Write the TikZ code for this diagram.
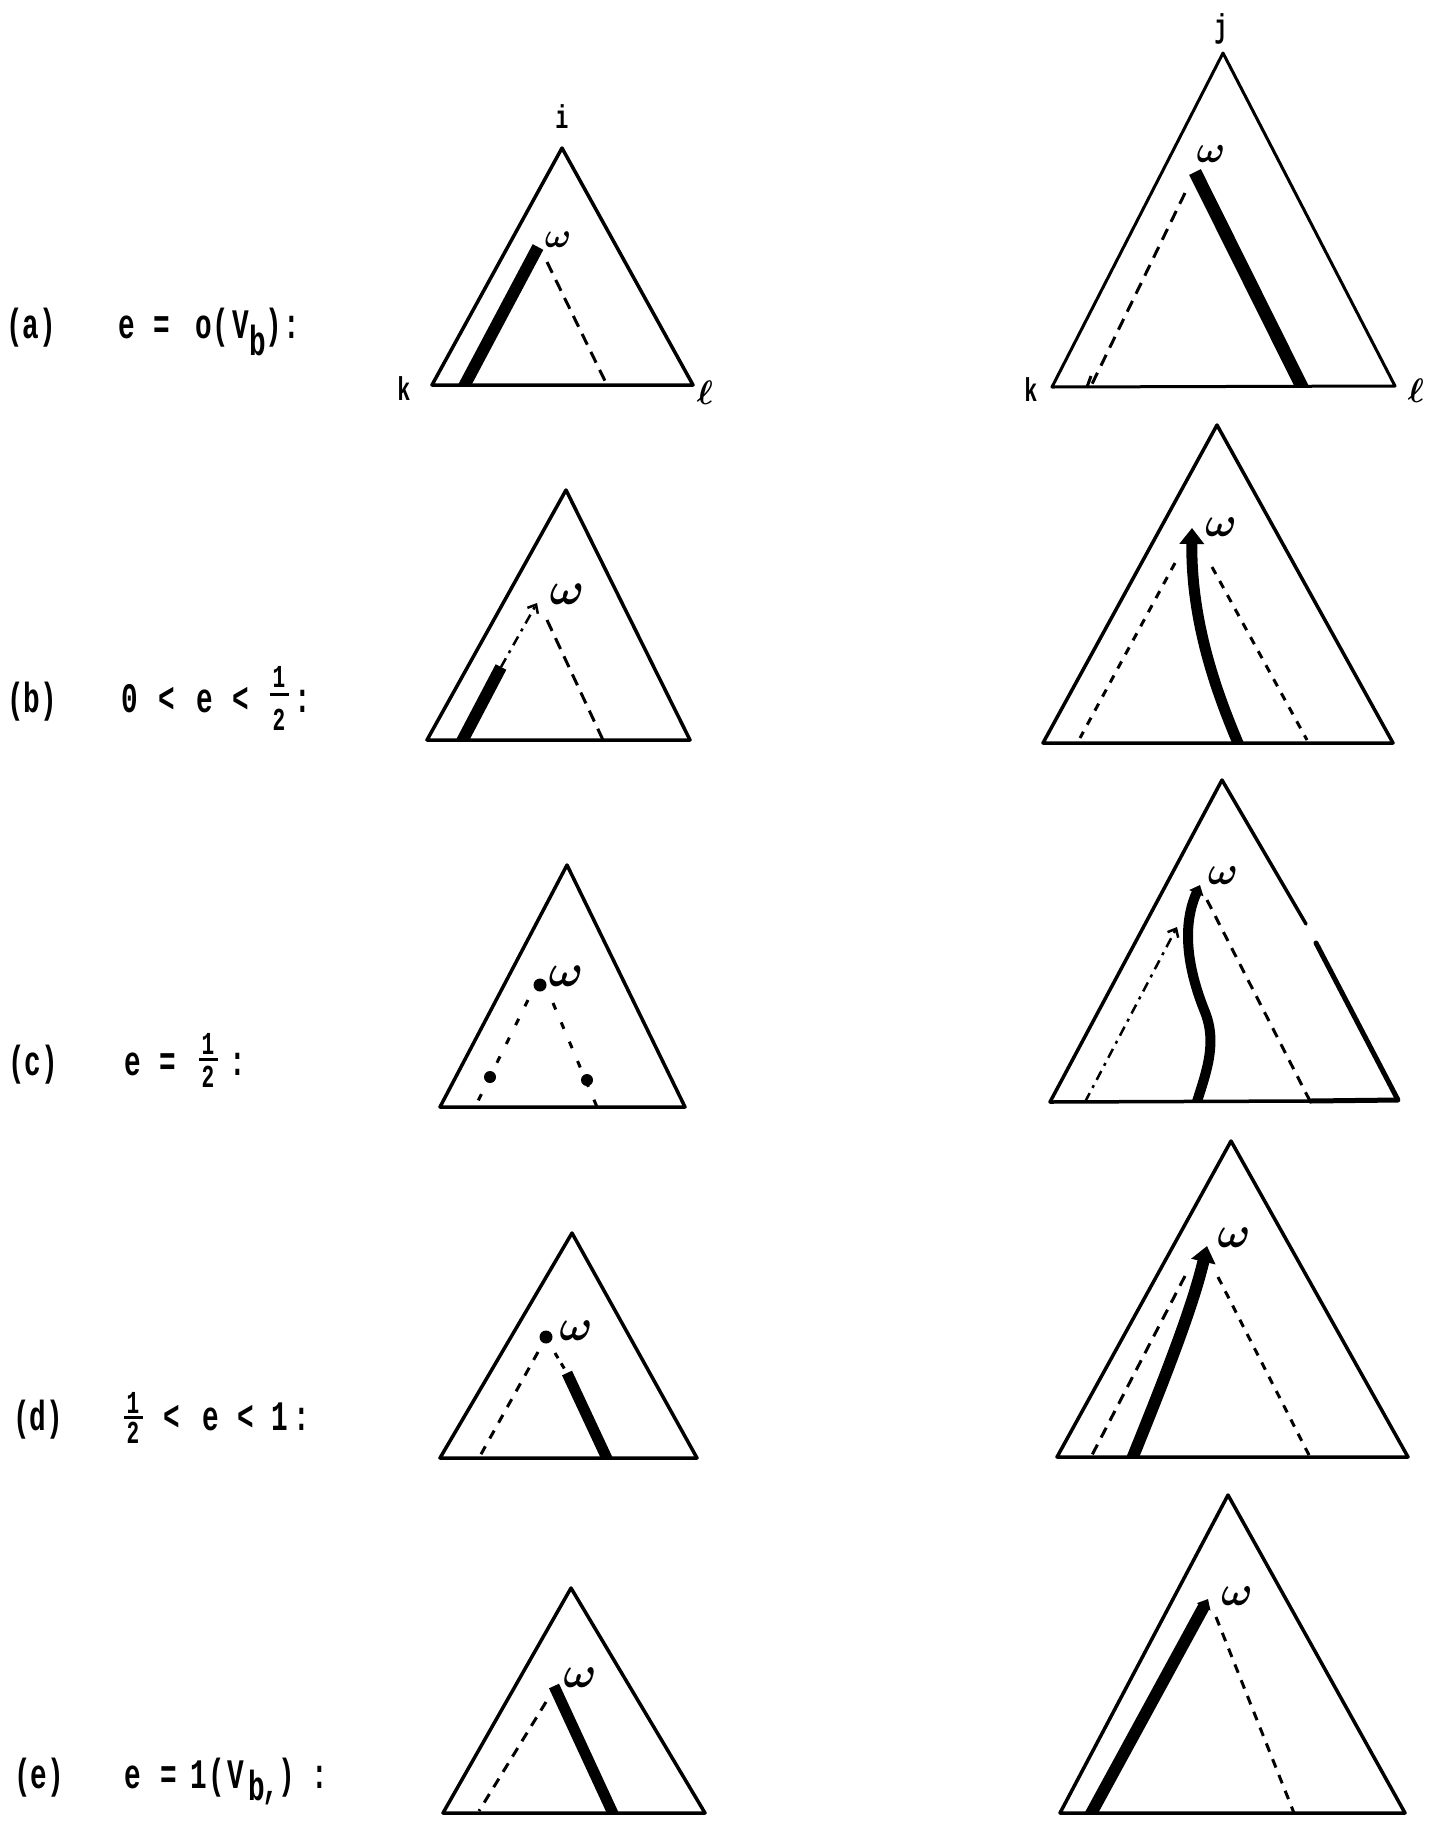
\RequirePackage{fix-cm}
\documentclass[tikz,border=0pt]{standalone}
\usepackage{fontspec}
\newfontfamily\tw[FakeStretch=0.66]{Liberation Mono}
\usetikzlibrary{arrows.meta}
\tikzset{
 side/.style={line width=3.5pt, line join=round, line cap=round},
 heavy/.style={line width=12pt},
 dsh/.style={line width=3pt, dash pattern=on 12pt off 8pt},
 sdsh/.style={line width=3pt, dash pattern=on 8pt off 8pt},
 dots/.style={line width=3pt, dash pattern=on 7pt off 14pt},
 dashdot/.style={line width=2.5pt, dash pattern=on 10pt off 6pt on 3pt off 6pt},
 lab/.style={inner sep=0pt, anchor=base, font=\tw\bfseries\fontsize{42}{44}\selectfont},
 fr/.style={inner sep=0pt, anchor=base, align=center, font=\tw\bfseries\fontsize{32}{#1}\selectfont},
 vlab/.style={inner sep=0pt, font=\tw\bfseries\fontsize{33}{35}\selectfont},
 ell/.style={inner sep=0pt, font=\fontsize{34}{36}\selectfont\boldmath},
 om/.style={inner sep=0pt, font=\fontsize{#1}{#1}\selectfont\boldmath},
 blob/.style={circle, fill, inner sep=0pt, minimum size=13pt},
 tipbig/.style={-{Triangle[length=16pt,width=24pt]}},
 tipsmall/.style={-{Triangle[length=9pt,width=15pt]}},
 caret/.style={-{Straight Barb[length=7pt,width=12pt]}},
}
\begin{document}
\begin{tikzpicture}[x=1pt,y=-1pt]
\fill[white] (0,0) rectangle (1435,1821);
\useasboundingbox (0,0) rectangle (1435,1821);

% ---------------- row labels ----------------
\node[lab] (la1) at (31,338) {(a)};
\node[lab] (la2) at (127,338) {e};
\node[lab] (la3) at (162,338) {=};
\node[lab] (la4) at (204,338) {o};
\node[lab] (la5) at (221,338) {(};
\node[lab] (la6) at (241,338) {V};
\node[lab] (la7) at (258,355) {b};
\node[lab] (la8) at (274,338) {)};
\node[lab] (la9) at (292,338) {:};

\node[lab] (lb1) at (32,712) {(b)};
\node[lab] (lb2) at (130,712) {0};
\node[lab] (lb3) at (167,712) {<};
\node[lab] (lb4) at (205,712) {e};
\node[lab] (lb5) at (241,712) {<};
\node[fr=43] (lb6) at (279,730) {1\\2};
\coordinate (lb8a) at (270,694); \coordinate (lb8b) at (289,694);
\draw[line width=3pt] (lb8a) -- (lb8b);
\node[lab] (lb9) at (303,712) {:};

\node[lab] (lc1) at (33,1075) {(c)};
\node[lab] (lc2) at (133,1075) {e};
\node[lab] (lc3) at (168,1075) {=};
\node[fr=33] (lc4) at (208,1087) {1\\2};
\coordinate (lc6a) at (199,1059); \coordinate (lc6b) at (218,1059);
\draw[line width=3pt] (lc6a) -- (lc6b);
\node[lab] (lc7) at (238,1075) {:};

\node[lab] (ld1) at (38,1430) {(d)};
\node[fr=30] (ld2) at (133,1443) {1\\2};
\coordinate (ld4a) at (124,1417); \coordinate (ld4b) at (143,1417);
\draw[line width=3pt] (ld4a) -- (ld4b);
\node[lab] (ld5) at (172,1430) {<};
\node[lab] (ld6) at (211,1430) {e};
\node[lab] (ld7) at (246,1430) {<};
\node[lab] (ld8) at (280,1430) {1};
\node[lab] (ld9) at (302,1430) {:};

\node[lab] (le1) at (39,1788) {(e)};
\node[lab] (le2) at (133,1788) {e};
\node[lab] (le3) at (169,1788) {=};
\node[lab] (le4) at (199,1788) {1};
\node[lab] (le5) at (217,1788) {(};
\node[lab] (le6) at (236,1788) {V};
\node[lab] (le7) at (257,1800) {b};
\node[lab] (le8) at (271,1797) {,};
\node[lab] (le9) at (287,1788) {)};
\node[lab] (le10) at (320,1788) {:};

% ---------------- row a, left ----------------
\coordinate (aLi) at (562,148); \coordinate (aLk) at (432,385); \coordinate (aLl) at (693,385);
\coordinate (aLw) at (538,247); \coordinate (aLb) at (461,392);
\coordinate (aLd1) at (547,262); \coordinate (aLd2) at (607,385);
\begin{scope}
\clip (aLi)--(aLk)--(aLl)--cycle;
\draw[heavy] (aLw)--(aLb);
\end{scope}
\draw[dsh] (aLd1)--(aLd2);
\draw[side] (aLi)--(aLk)--(aLl)--cycle;
\node[vlab] (aLti) at (562,117) {i};
\node[vlab] (aLtk) at (404,389) {k};
\node[ell] (aLtl) at (705,393) {$\ell$};
\node[om=35] (aLtw) at (558,240) {$\omega$};

% ---------------- row a, right ----------------
\coordinate (aRj) at (1223,53); \coordinate (aRk) at (1052,387); \coordinate (aRl) at (1395,386);
\coordinate (aRw) at (1195,172); \coordinate (aRb) at (1305,393);
\coordinate (aRd1) at (1185,193); \coordinate (aRd2) at (1092,384);
\coordinate (aRt1) at (1091,376); \coordinate (aRt2) at (1087,387);
\begin{scope}
\clip (aRj)--(aRk)--(aRl)--cycle;
\draw[heavy,line width=13pt] (aRw)--(aRb);
\end{scope}
\draw[dsh] (aRd1)--(aRd2);
\draw[line width=3pt] (aRt1)--(aRt2);
\draw[side,line width=3pt] (aRj)--(aRk)--(aRl)--cycle;
\node[vlab] (aRtj) at (1221,29) {j};
\node[vlab] (aRtk) at (1031,390) {k};
\node[ell] (aRtl) at (1416,391) {$\ell$};
\node[om=38] (aRtw) at (1211,154) {$\omega$};

% ---------------- row b, left ----------------
\coordinate (bLt) at (566,490); \coordinate (bLk) at (427,740); \coordinate (bLl) at (690,740);
\coordinate (bLw) at (537,603); \coordinate (bLm) at (501,667); \coordinate (bLb) at (459,747);
\coordinate (bLd1) at (547,620); \coordinate (bLd2) at (603,740);
\begin{scope}
\clip (bLt)--(bLk)--(bLl)--cycle;
\draw[heavy] (bLm)--(bLb);
\end{scope}
\draw[dashdot,caret] (bLm)--(bLw);
\draw[dsh] (bLd1)--(bLd2);
\draw[side] (bLt)--(bLk)--(bLl)--cycle;
\node[om=46] (bLtw) at (567,594) {$\omega$};

% ---------------- row b, right ----------------
\coordinate (bRt) at (1217,425); \coordinate (bRk) at (1043,743); \coordinate (bRl) at (1393,743);
\coordinate (bRw) at (1192,528); \coordinate (bRb) at (1241,750);
\coordinate (bRd1) at (1175,563); \coordinate (bRd2) at (1080,738);
\coordinate (bRe1) at (1212,567); \coordinate (bRe2) at (1307,740);
\begin{scope}
\clip (bRt)--(bRk)--(bRl)--cycle;
\draw[heavy,line width=11pt,tipbig] (bRb) .. controls (1215,690) and (1191,620) .. (bRw);
\end{scope}
\draw[sdsh] (bRd1)--(bRd2);
\draw[sdsh] (bRe1)--(bRe2);
\draw[side] (bRt)--(bRk)--(bRl)--cycle;
\node[om=42] (bRtw) at (1221,527) {$\omega$};

% ---------------- row c, left ----------------
\coordinate (cLt) at (567,865); \coordinate (cLk) at (440,1107); \coordinate (cLl) at (685,1107);
\coordinate (cLd1) at (528,1000); \coordinate (cLd2) at (476,1105);
\coordinate (cLe1) at (553,1003); \coordinate (cLe2) at (597,1107);
\draw[dots] (cLd1)--(cLd2);
\draw[dots] (cLe1)--(cLe2);
\node[blob] (cLw) at (540,985) {};
\node[blob,minimum size=12pt] (cLp) at (490,1077) {};
\node[blob,minimum size=12pt] (cLq) at (587,1080) {};
\draw[side] (cLt)--(cLk)--(cLl)--cycle;
\node[om=46] (cLtw) at (566,976) {$\omega$};

% ---------------- row c, right ----------------
\coordinate (cRt) at (1222,780); \coordinate (cRk) at (1050,1102); \coordinate (cRl) at (1398,1100);
\coordinate (cRg1) at (1306,924); \coordinate (cRg2) at (1316,943);
\coordinate (cRm) at (1310,1101);
\coordinate (cRw) at (1200,885); \coordinate (cRs) at (1205,1012); \coordinate (cRb) at (1195,1108);
\coordinate (cRd1) at (1177,927); \coordinate (cRd2) at (1085,1102);
\coordinate (cRe1) at (1207,900);
\begin{scope}
\clip (cRt)--(cRk)--(cRl)--cycle;
\draw[heavy,line width=10pt,tipsmall] (cRb) .. controls (1205,1075) and (1218,1045) .. (cRs)
   .. controls (1190,975) and (1180,930) .. (cRw);
\end{scope}
\draw[dashdot,caret] (cRd2)--(cRd1);
\draw[sdsh,dash pattern=on 10pt off 8pt] (cRe1)--(cRm);
\draw[side] (cRg1)--(cRt)--(cRk)--(cRm);
\draw[side,line width=5pt] (cRm)--(cRl)--(cRg2);
\node[om=40] (cRtw) at (1223,876) {$\omega$};

% ---------------- row d, left ----------------
\coordinate (dLt) at (572,1233); \coordinate (dLk) at (440,1458); \coordinate (dLl) at (697,1458);
\coordinate (dLd1) at (538,1352); \coordinate (dLd2) at (480,1456);
\coordinate (dLe1) at (555,1353); \coordinate (dLm) at (567,1373); \coordinate (dLb) at (610,1465);
\begin{scope}
\clip (dLt)--(dLk)--(dLl)--cycle;
\draw[heavy,line width=11pt] (dLm)--(dLb);
\end{scope}
\draw[sdsh,dash pattern=on 9pt off 9pt] (dLd1)--(dLd2);
\draw[line width=3pt,dash pattern=on 6pt off 6pt] (dLe1)--(dLm);
\node[blob,minimum size=13pt] (dLw) at (546,1337) {};
\draw[side] (dLt)--(dLk)--(dLl)--cycle;
\node[om=44] (dLtw) at (576,1331) {$\omega$};

% ---------------- row d, right ----------------
\coordinate (dRt) at (1231,1141); \coordinate (dRk) at (1057,1457); \coordinate (dRl) at (1408,1457);
\coordinate (dRw) at (1207,1246); \coordinate (dRb) at (1130,1464);
\coordinate (dRd1) at (1185,1276); \coordinate (dRd2) at (1091,1457);
\coordinate (dRe1) at (1218,1277); \coordinate (dRe2) at (1310,1457);
\begin{scope}
\clip (dRt)--(dRk)--(dRl)--cycle;
\draw[heavy,line width=12pt,tipbig] (dRb) .. controls (1160,1390) and (1192,1310) .. (dRw);
\end{scope}
\draw[dsh,dash pattern=on 11pt off 8pt] (dRd1)--(dRd2);
\draw[sdsh] (dRe1)--(dRe2);
\draw[side] (dRt)--(dRk)--(dRl)--cycle;
\node[om=44] (dRtw) at (1234,1238) {$\omega$};

% ---------------- row e, left ----------------
\coordinate (eLt) at (571,1588); \coordinate (eLk) at (443,1813); \coordinate (eLl) at (705,1813);
\coordinate (eLw) at (554,1686); \coordinate (eLb) at (616,1820);
\coordinate (eLd1) at (546,1702); \coordinate (eLd2) at (479,1811);
\begin{scope}
\clip (eLt)--(eLk)--(eLl)--cycle;
\draw[heavy,line width=11pt] (eLw)--(eLb);
\end{scope}
\draw[dsh,dash pattern=on 10pt off 8pt] (eLd1)--(eLd2);
\draw[side] (eLt)--(eLk)--(eLl)--cycle;
\node[om=44] (eLtw) at (580,1678) {$\omega$};

% ---------------- row e, right ----------------
\coordinate (eRt) at (1228,1495); \coordinate (eRk) at (1060,1813); \coordinate (eRl) at (1405,1813);
\coordinate (eRw) at (1208,1599); \coordinate (eRb) at (1087,1821);
\coordinate (eRd1) at (1216,1617); \coordinate (eRd2) at (1294,1813);
\begin{scope}
\clip (eRt)--(eRk)--(eRl)--cycle;
\draw[heavy,line width=12pt,tipsmall] (eRb)--(eRw);
\end{scope}
\draw[sdsh,dash pattern=on 9pt off 8pt] (eRd1)--(eRd2);
\draw[side] (eRt)--(eRk)--(eRl)--cycle;
\node[om=42] (eRtw) at (1237,1596) {$\omega$};
\end{tikzpicture}
\end{document}
